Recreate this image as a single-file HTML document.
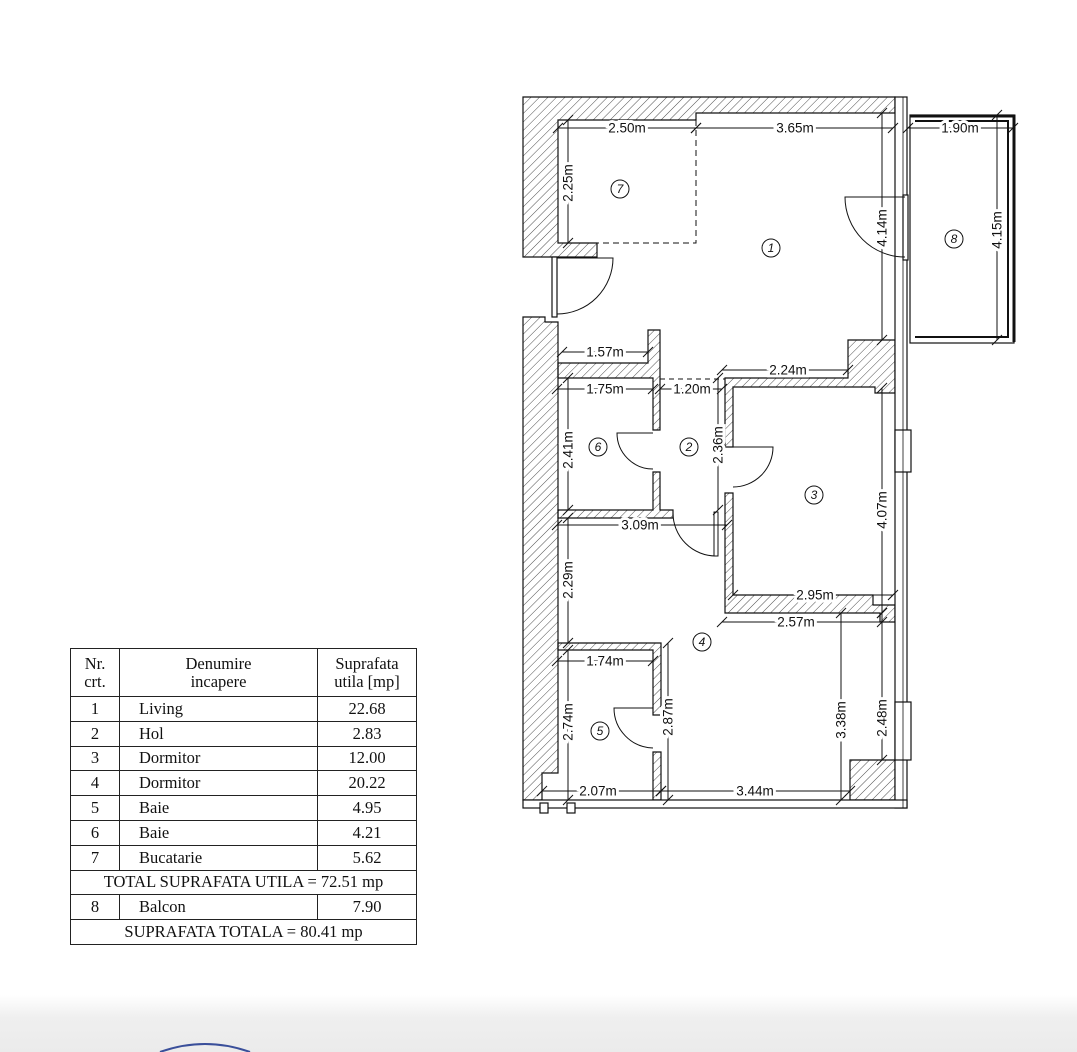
<!DOCTYPE html>
<html><head><meta charset="utf-8"><style>
html,body{margin:0;padding:0;background:#fff}
body{width:1077px;height:1052px;position:relative;overflow:hidden;font-family:"Liberation Serif",serif}
.band{position:absolute;left:0;top:995px;width:1077px;height:57px;background:linear-gradient(#fff,#efefef 40%,#ebebeb)}
table{position:absolute;left:70px;top:648px;border-collapse:collapse;font-size:16.5px;color:#111}
td{border:1.5px solid #222;padding:0;height:23.8px;line-height:18px}
</style></head><body>
<div class="band"></div>
<svg style="position:absolute;left:0;top:0" width="1077" height="1052" viewBox="0 0 1077 1052">
<defs>
<pattern id="h" width="6" height="6" patternUnits="userSpaceOnUse" patternTransform="rotate(45)">
<line x1="0" y1="0" x2="0" y2="6" stroke="#222" stroke-width="0.8"/></pattern>
<marker id="t" markerUnits="userSpaceOnUse" markerWidth="12" markerHeight="12" refX="6" refY="6" orient="0" viewBox="0 0 12 12">
<line x1="1" y1="11" x2="11" y2="1" stroke="#111" stroke-width="1"/></marker>
</defs>
<path d="M160 1052 Q205 1036 250 1052" fill="none" stroke="#3a4f9a" stroke-width="2"/>
<g fill="url(#h)" stroke="#111" stroke-width="1.2">
<polygon points="523,97 895,97 895,113 696,113 696,120 558,120 558,243 597,243 597,257 523,257"/>
<polygon points="523,317 545,317 545,322 558,322 558,773 542,773 542,800 523,800"/>
<polygon points="558,363 648,363 648,330 660,330 660,430 653,430 653,378 558,378"/>
<polygon points="653,472 660,472 660,510 673,510 673,518 558,518 558,510 653,510"/>
<polygon points="725,378 848,378 848,340 895,340 895,393 875,393 875,387 733,387 733,447 725,447"/>
<polygon points="725,493 733,493 733,595 873,595 873,605 895,605 895,622 880,622 880,613 725,613"/>
<polygon points="558,643 661,643 661,715 653,715 653,650 558,650"/>
<polygon points="653,752 661,752 661,800 653,800"/>
<polygon points="850,760 895,760 895,800 850,800"/>
</g>
<g fill="#fff" stroke="#111" stroke-width="1.2">
<rect x="895" y="97" width="12" height="711"/>
<rect x="523" y="800" width="384" height="8"/>
<rect x="903" y="195" width="5" height="65"/>
<rect x="895" y="430" width="16" height="42"/>
<rect x="895" y="702" width="16" height="58"/>
<rect x="552" y="257" width="5" height="60"/>
<rect x="540" y="803" width="8" height="10"/>
<rect x="567" y="803" width="8" height="10"/>
<rect x="910" y="115" width="104" height="228"/>
</g>
<line x1="903" y1="97" x2="903" y2="808" stroke="#111" stroke-width="0.8"/>
<path d="M910 116 H1014 V342" fill="none" stroke="#111" stroke-width="3"/>
<path d="M915 121 H1008 V337 H915" fill="none" stroke="#111" stroke-width="2"/>
<g fill="none" stroke="#111" stroke-width="1">
<path d="M696 120 V243 H597" stroke-dasharray="6,4"/>
<line x1="660" y1="379" x2="725" y2="379" stroke-dasharray="5,4"/>
<path d="M557 258 H613 A56 56 0 0 1 557 314"/>
<path d="M905 197 H845 A60 60 0 0 0 905 257"/>
<path d="M653 433 H617 A36 36 0 0 0 653 469"/>
<path d="M733 447 H773 A40 40 0 0 1 733 487"/>
<path d="M716 512 V556 A43 43 0 0 1 673 513"/>
<path d="M653 708 H614 A40 40 0 0 0 653 748"/>
<rect x="714" y="512" width="4" height="44" fill="#fff"/>
</g>
<g stroke="#111" stroke-width="1" marker-start="url(#t)" marker-end="url(#t)">
<line x1="558" y1="128" x2="696" y2="128"/>
<line x1="696" y1="128" x2="893" y2="128"/>
<line x1="908" y1="128" x2="1013" y2="128"/>
<line x1="568" y1="120" x2="568" y2="243"/>
<line x1="882" y1="113" x2="882" y2="340"/>
<line x1="997" y1="115" x2="997" y2="340"/>
<line x1="562" y1="352" x2="648" y2="352"/>
<line x1="722" y1="370" x2="848" y2="370"/>
<line x1="557" y1="389" x2="653" y2="389"/>
<line x1="660" y1="389" x2="722" y2="389"/>
<line x1="568" y1="378" x2="568" y2="510"/>
<line x1="718" y1="378" x2="718" y2="510"/>
<line x1="557" y1="525" x2="727" y2="525"/>
<line x1="882" y1="388" x2="882" y2="613"/>
<line x1="568" y1="518" x2="568" y2="643"/>
<line x1="733" y1="595" x2="893" y2="595"/>
<line x1="722" y1="622" x2="882" y2="622"/>
<line x1="557" y1="661" x2="653" y2="661"/>
<line x1="568" y1="650" x2="568" y2="800"/>
<line x1="668" y1="643" x2="668" y2="800"/>
<line x1="841" y1="613" x2="841" y2="800"/>
<line x1="882" y1="613" x2="882" y2="760"/>
<line x1="542" y1="791" x2="661" y2="791"/>
<line x1="661" y1="791" x2="850" y2="791"/>
</g>
<g font-family="Liberation Sans, sans-serif" font-size="13.5" fill="#111" text-anchor="middle" stroke="#fff" stroke-width="6" paint-order="stroke" dominant-baseline="central">
<text x="627" y="128">2.50m</text>
<text x="795" y="128">3.65m</text>
<text x="960" y="128">1.90m</text>
<text x="605" y="352">1.57m</text>
<text x="788" y="370">2.24m</text>
<text x="605" y="389">1.75m</text>
<text x="692" y="389">1.20m</text>
<text x="640" y="525">3.09m</text>
<text x="815" y="595">2.95m</text>
<text x="796" y="622">2.57m</text>
<text x="605" y="661">1.74m</text>
<text x="598" y="791">2.07m</text>
<text x="755" y="791">3.44m</text>
<text transform="translate(568,183) rotate(-90)">2.25m</text>
<text transform="translate(882,228) rotate(-90)">4.14m</text>
<text transform="translate(997,230) rotate(-90)">4.15m</text>
<text transform="translate(568,450) rotate(-90)">2.41m</text>
<text transform="translate(718,445) rotate(-90)">2.36m</text>
<text transform="translate(882,510) rotate(-90)">4.07m</text>
<text transform="translate(568,580) rotate(-90)">2.29m</text>
<text transform="translate(568,722) rotate(-90)">2.74m</text>
<text transform="translate(668,717) rotate(-90)">2.87m</text>
<text transform="translate(841,720) rotate(-90)">3.38m</text>
<text transform="translate(882,718) rotate(-90)">2.48m</text>
</g>
<g fill="none" stroke="#111" stroke-width="1">
<circle cx="620" cy="189" r="9"/><circle cx="771" cy="248" r="9"/><circle cx="954" cy="239" r="9"/>
<circle cx="598" cy="447" r="9"/><circle cx="689" cy="447" r="9"/><circle cx="814" cy="495" r="9"/>
<circle cx="702" cy="642" r="9"/><circle cx="600" cy="731" r="9"/>
</g>
<g font-family="Liberation Sans, sans-serif" font-size="12" font-style="italic" fill="#111" text-anchor="middle" dominant-baseline="central">
<text x="620" y="189">7</text><text x="771" y="248">1</text><text x="954" y="239">8</text>
<text x="598" y="447">6</text><text x="689" y="447">2</text><text x="814" y="495">3</text>
<text x="702" y="642">4</text><text x="600" y="731">5</text>
</g>
</svg>
<table>
<tr><td style="width:48px;height:47px;text-align:center">Nr.<br>crt.</td><td style="width:197px;text-align:center">Denumire<br>incapere</td><td style="width:98px;text-align:center">Suprafata<br>utila [mp]</td></tr>
<tr><td align="center">1</td><td style="padding-left:19px">Living</td><td align="center">22.68</td></tr>
<tr><td align="center">2</td><td style="padding-left:19px">Hol</td><td align="center">2.83</td></tr>
<tr><td align="center">3</td><td style="padding-left:19px">Dormitor</td><td align="center">12.00</td></tr>
<tr><td align="center">4</td><td style="padding-left:19px">Dormitor</td><td align="center">20.22</td></tr>
<tr><td align="center">5</td><td style="padding-left:19px">Baie</td><td align="center">4.95</td></tr>
<tr><td align="center">6</td><td style="padding-left:19px">Baie</td><td align="center">4.21</td></tr>
<tr><td align="center">7</td><td style="padding-left:19px">Bucatarie</td><td align="center">5.62</td></tr>
<tr><td colspan="3" align="center">TOTAL SUPRAFATA UTILA = 72.51 mp</td></tr>
<tr><td align="center">8</td><td style="padding-left:19px">Balcon</td><td align="center">7.90</td></tr>
<tr><td colspan="3" align="center">SUPRAFATA TOTALA = 80.41 mp</td></tr>
</table>
</body></html>
